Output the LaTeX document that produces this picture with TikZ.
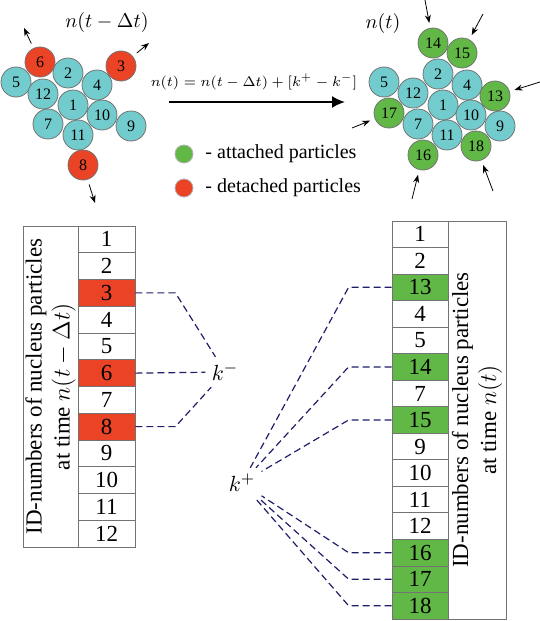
\documentclass[tikz,border=0pt]{standalone}
\usepackage{fontspec}
\setmainfont{Liberation Serif}
\usetikzlibrary{arrows.meta, positioning, calc}
\definecolor{nucleus}{RGB}{114,204,206}
\definecolor{detach}{RGB}{234,67,38}
\definecolor{attach}{RGB}{98,184,70}
\definecolor{linkblue}{RGB}{30,30,105}

\begin{document}
\begin{tikzpicture}[
  x=0.5pt, y=-0.5pt,
  particle/.style={
    circle, draw=black!55, fill=nucleus, minimum size=15pt,
    inner sep=0pt, font=\fontsize{8}{9}\selectfont
  },
  gone/.style={particle, fill=detach},
  new/.style={particle, fill=attach},
  legdot/.style={circle, draw=black!30, minimum size=9pt, inner sep=0pt},
  move/.style={-{Stealth[length=4pt,width=3pt]}, thin},
  cell/.style={
    rectangle, draw=black!55, minimum width=28pt, minimum height=13.3pt,
    inner sep=0pt, font=\fontsize{11.5}{13}\selectfont
  },
  idbox/.style={
    rectangle, draw=black!55, rotate=90, align=center,
    inner sep=0pt, font=\fontsize{11.5}{14}\selectfont
  },
  link/.style={dashed, dash pattern=on 3.5pt off 2pt, line width=0.6pt, color=linkblue},
  klabel/.style={font=\fontsize{11}{13}\selectfont, inner sep=3pt}
]
\useasboundingbox (0,0) rectangle (540,621);

% Nucleus at time t - dt
\foreach \n/\x/\y/\s in {5/16/82/particle, 6/40/62/gone, 2/68/73/particle,
    3/121/66/gone, 4/97/85/particle, 12/43/94/particle, 1/73/105/particle,
    10/102/115/particle, 9/131/126/particle, 7/48/124/particle,
    11/78/135/particle, 8/83/165/gone}
  \node[\s] (lp\n) at (\x,\y) {\n};
\node (tprev) at (107,22) {$n(t-\Delta t)$};

% Detachment arrows
\coordinate (out6) at (24,28);
\coordinate (out3) at (149,43);
\coordinate (out8) at (95,203);
\foreach \n in {6,3,8}
  \draw[move, shorten <=2.5pt] (lp\n) -- (out\n);

% Nucleus at time t
\foreach \n/\x/\y/\s in {14/433/43/new, 15/462/53/new, 2/438/74/particle,
    5/384/82/particle, 4/467/85/particle, 13/495/96/new, 12/413/93/particle,
    17/389/113/new, 1/443/105/particle, 10/471/115/particle,
    9/500/126/particle, 7/418/124/particle, 11/447/135/particle,
    18/476/146/new, 16/423/155/new}
  \node[\s] (rp\n) at (\x,\y) {\n};
\node (tnow) at (383,23) {$n(t)$};

% Attachment arrows
\coordinate (in14) at (425,0);
\coordinate (in15) at (483,14);
\coordinate (in13) at (540,82);
\coordinate (in17) at (352,128);
\coordinate (in16) at (412,199);
\coordinate (in18) at (493,191);
\foreach \n in {14,15,13,17,16,18}
  \draw[move, shorten >=2.5pt] (in\n) -- (rp\n);

% Update rule
\coordinate (evstart) at (169,102);
\coordinate (evend) at (345,102);
\draw[line width=1pt, -{Latex[length=6.5pt,width=6pt]}] (evstart) -- (evend);
\node[font=\fontsize{7.3}{9}\selectfont] (rule) at (254,82) {$n(t)=n(t-\Delta t)+[k^+-k^-]$};

% Legend
\node[legdot, fill=attach] (gdot) at (184,154) {};
\node[right=2.5pt of gdot] (gtxt) {- attached particles};
\node[legdot, fill=detach] (rdot) at (184,188) {};
\node[right=2.5pt of rdot] (rtxt) {- detached particles};

% Table at time t - dt
\foreach \v/\c [count=\i] in {1/white, 2/white, 3/detach, 4/white, 5/white,
    6/detach, 7/white, 8/detach, 9/white, 10/white, 11/white, 12/white}
  \node[cell, fill=\c, minimum width=28.5pt, minimum height=13.375pt]
    (L\i) at (106.5, {226+26.75*(\i-0.5)}) {\v};
\node[idbox, minimum width=160.5pt, minimum height=27.5pt] (Llab) at (50.5,386.5)
  {ID-numbers of nucleus particles\\at time $n(t-\Delta t)$};

% Table at time t
\foreach \v/\c [count=\i] in {1/white, 2/white, 13/attach, 4/white, 5/white,
    14/attach, 7/white, 15/attach, 9/white, 10/white, 11/white, 12/white,
    16/attach, 17/attach, 18/attach}
  \node[cell, fill=\c, minimum height=13.267pt]
    (R\i) at (420, {221+26.533*(\i-0.5)}) {\v};
\node[idbox, minimum width=199pt, minimum height=29pt] (Rlab) at (477,420)
  {ID-numbers of nucleus particles\\at time $n(t)$};

% Detached / attached sets
\node[klabel] (km) at (225,372) {$k^-$};
\node[klabel] (kp) at (242,483) {$k^+$};
\draw[link] (L3.east) -- ++(40,0) -- (km);
\draw[link] (L6.east) -- (km);
\draw[link] (L8.east) -- ++(40,0) -- (km);
\foreach \r in {3,6,8,13,14,15}
  \draw[link] (R\r.west) -- ++(-43,0) -- (kp);

\end{tikzpicture}
\end{document}
